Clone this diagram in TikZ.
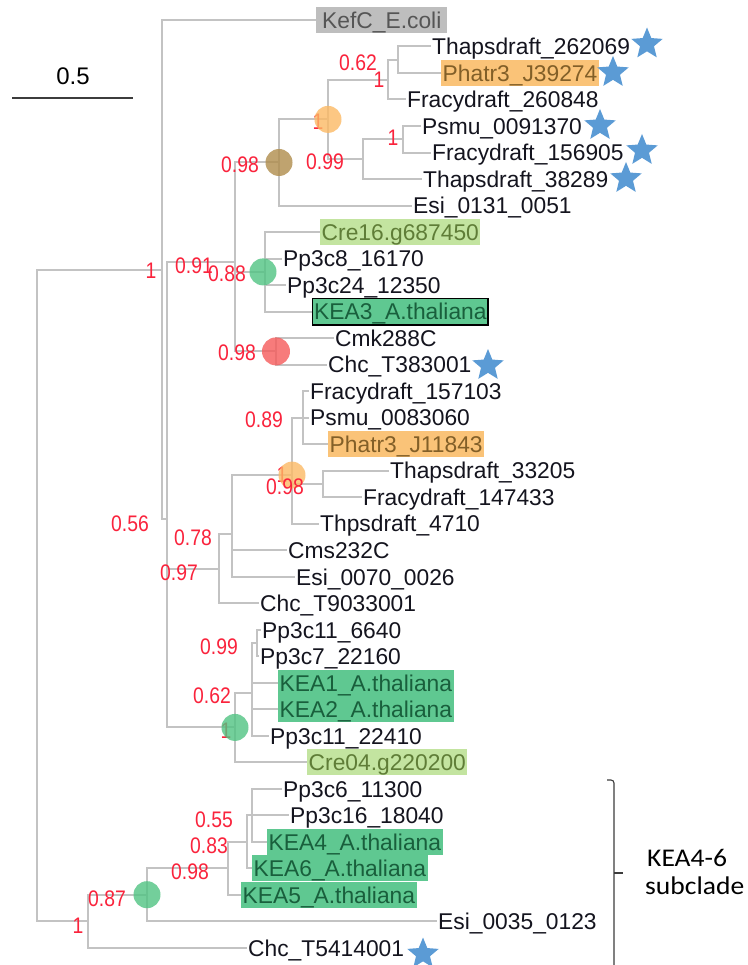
\documentclass[tikz,border=0pt]{standalone}
\usepackage{fontspec}
\setmainfont{Liberation Sans}
\newfontfamily\lblfont[FakeStretch=0.86]{Liberation Sans}
\newfontfamily\calfont[FakeStretch=1.08]{Carlito}
\usetikzlibrary{shapes.geometric}
\definecolor{branch}{RGB}{195,195,195}
\definecolor{leafblack}{RGB}{20,20,30}
\definecolor{supred}{RGB}{250,35,60}
\definecolor{orfill}{RGB}{250,195,120}
\definecolor{ortext}{RGB}{130,95,40}
\definecolor{keafill}{RGB}{95,200,145}
\definecolor{keatext}{RGB}{25,95,60}
\definecolor{crefill}{RGB}{195,228,160}
\definecolor{cretext}{RGB}{95,125,55}
\definecolor{kefcfill}{RGB}{190,190,190}
\definecolor{kefctext}{RGB}{85,85,85}
\definecolor{starblue}{RGB}{91,155,213}
\definecolor{dotorange}{RGB}{252,185,100}
\definecolor{dotbrown}{RGB}{175,140,75}
\definecolor{dotgreen}{RGB}{80,195,130}
\definecolor{dotred}{RGB}{245,90,90}
\definecolor{brackgray}{RGB}{60,60,60}
\tikzset{
  leaf/.style={anchor=west, inner xsep=1.5pt, inner ysep=1.5pt, text height=20pt, text depth=3.6pt,
    font=\fontsize{22.8}{27}\selectfont, text=leafblack},
  hlorange/.style={leaf, fill=orfill, text=ortext},
  hlkea/.style={leaf, fill=keafill, text=keatext},
  hlcre/.style={leaf, fill=crefill, text=cretext},
  hlkefc/.style={leaf, fill=kefcfill, text=kefctext, inner xsep=6pt},
  supp/.style={font=\lblfont\fontsize{22.5}{26}\selectfont, text=supred, inner sep=0pt,
    text height=16pt, text depth=0pt, anchor=center},
  edge/.style={draw=branch, line width=2pt},
  starmark/.style={star, star points=5, star point ratio=2.25, fill=starblue, draw=none,
    minimum size=33pt, inner sep=0pt},
  nodedot/.style={circle, minimum size=27pt, inner sep=0pt, draw=none, fill opacity=0.8}
}
\begin{document}
\begin{tikzpicture}[x=1pt,y=-1pt]
\useasboundingbox (0,0) rectangle (747,965);
\fill[white] (0,0) rectangle (747,965);
\clip (0,0) rectangle (747,965);

% scale bar
\node[font=\fontsize{24}{28}\selectfont, inner sep=0pt, text height=17pt, text depth=0pt] (scaletxt) at (73,76) {0.5};
\coordinate (sbL) at (12,98);
\coordinate (sbR) at (133,98);
\draw[brackgray, line width=1.1pt] (sbL) -- (sbR);

% internal nodes
\coordinate (R) at (37,595.5);
\coordinate (A) at (162,269.7);
\coordinate (C) at (167,519.3);
\coordinate (D) at (235,262);
\coordinate (Br) at (279,162.5);
\coordinate (O1) at (328,119.4);
\coordinate (Na) at (388,79.6);
\coordinate (Nb) at (398,59.8);
\coordinate (Nc) at (363,159.2);
\coordinate (Nd) at (403,139.3);
\coordinate (G88) at (265,271.9);
\coordinate (Rd) at (276,351.4);
\coordinate (N097) at (219,568.5);
\coordinate (N078) at (232,534);
\coordinate (O2) at (292,475.1);
\coordinate (N089) at (303,417.6);
\coordinate (N098b) at (323,483.9);
\coordinate (NG1) at (235,727.4);
\coordinate (N062c) at (252,692.7);
\coordinate (N099c) at (257,643);
\coordinate (B) at (88,921.3);
\coordinate (NG2) at (147,894.7);
\coordinate (N098c) at (228,868.3);
\coordinate (N083) at (247,841.7);
\coordinate (N055) at (252,815.3);

% leaves
\node[hlkefc] (L1) at (316,20) {KefC\_E.coli};
\node[leaf] (L2) at (430.5,46.5) {Thapsdraft\_262069};
\node[hlorange] (L3) at (441,73) {Phatr3\_J39274};
\node[leaf] (L4) at (405.5,99.5) {Fracydraft\_260848};
\node[leaf] (L5) at (420.5,126) {Psmu\_0091370};
\node[leaf] (L6) at (430.5,152.6) {Fracydraft\_156905};
\node[leaf] (L7) at (421.5,179) {Thapsdraft\_38289};
\node[leaf] (L8) at (411.5,205.6) {Esi\_0131\_0051};
\node[hlcre] (L9) at (320,232) {Cre16.g687450};
\node[leaf] (L10) at (281.5,258.6) {Pp3c8\_16170};
\node[leaf] (L11) at (285.5,285) {Pp3c24\_12350};
\node[hlkea, draw=black, line width=1.4pt] (L12) at (312,311.7) {KEA3\_A.thaliana};
\node[leaf] (L13) at (333.5,338) {Cmk288C};
\node[leaf] (L14) at (326.5,364.7) {Chc\_T383001};
\node[leaf] (L15) at (308.5,391) {Fracydraft\_157103};
\node[leaf] (L16) at (308.5,417.7) {Psmu\_0083060};
\node[hlorange] (L17) at (328,444) {Phatr3\_J11843};
\node[leaf] (L18) at (388.5,470.7) {Thapsdraft\_33205};
\node[leaf] (L19) at (361.5,497) {Fracydraft\_147433};
\node[leaf] (L20) at (318.5,523.7) {Thpsdraft\_4710};
\node[leaf] (L21) at (286.5,550) {Cms232C};
\node[leaf] (L22) at (294.5,576.8) {Esi\_0070\_0026};
\node[leaf] (L23) at (258.5,603) {Chc\_T9033001};
\node[leaf] (L24) at (260.5,629.8) {Pp3c11\_6640};
\node[leaf] (L25) at (258.5,656) {Pp3c7\_22160};
\node[hlkea] (L26) at (278,682.9) {KEA1\_A.thaliana};
\node[hlkea] (L27) at (278,709) {KEA2\_A.thaliana};
\node[leaf] (L28) at (268.5,735.9) {Pp3c11\_22410};
\node[hlcre] (L29) at (307,762) {Cre04.g220200};
\node[leaf] (L30) at (281.5,789) {Pp3c6\_11300};
\node[leaf] (L31) at (288.5,815) {Pp3c16\_18040};
\node[hlkea] (L32) at (267,842) {KEA4\_A.thaliana};
\node[hlkea] (L33) at (252,868) {KEA6\_A.thaliana};
\node[hlkea] (L34) at (241,895) {KEA5\_A.thaliana};
\node[leaf] (L35) at (436.5,921) {Esi\_0035\_0123};
\node[leaf] (L36) at (246.5,948) {Chc\_T5414001};

% branches
\draw[edge] (R) |- (A);
\draw[edge] (R) |- (B);
\draw[edge] (A) |- (L1.west);
\draw[edge] (A) |- (C);
\draw[edge] (C) |- (D);
\draw[edge] (C) |- (N097);
\draw[edge] (C) |- (NG1);
\draw[edge] (D) |- (Br);
\draw[edge] (D) |- (G88);
\draw[edge] (D) |- (Rd);
\draw[edge] (Br) |- (O1);
\draw[edge] (Br) |- (L8.west);
\draw[edge] (O1) |- (Na);
\draw[edge] (O1) |- (Nc);
\draw[edge] (Na) |- (Nb);
\draw[edge] (Na) |- (L4.west);
\draw[edge] (Nb) |- (L2.west);
\draw[edge] (Nb) |- (L3.west);
\draw[edge] (Nc) |- (Nd);
\draw[edge] (Nc) |- (L7.west);
\draw[edge] (Nd) |- (L5.west);
\draw[edge] (Nd) |- (L6.west);
\draw[edge] (G88) |- (L9.west);
\draw[edge] (G88) |- (L10.west);
\draw[edge] (G88) |- (L11.west);
\draw[edge] (G88) |- (L12.west);
\draw[edge] (Rd) |- (L13.west);
\draw[edge] (Rd) |- (L14.west);
\draw[edge] (N097) |- (N078);
\draw[edge] (N097) |- (L23.west);
\draw[edge] (N078) |- (O2);
\draw[edge] (N078) |- (L21.west);
\draw[edge] (N078) |- (L22.west);
\draw[edge] (O2) |- (N089);
\draw[edge] (O2) |- (N098b);
\draw[edge] (O2) |- (L20.west);
\draw[edge] (N089) |- (L15.west);
\draw[edge] (N089) |- (L16.west);
\draw[edge] (N089) |- (L17.west);
\draw[edge] (N098b) |- (L18.west);
\draw[edge] (N098b) |- (L19.west);
\draw[edge] (NG1) |- (N062c);
\draw[edge] (NG1) |- (L29.west);
\draw[edge] (N062c) |- (N099c);
\draw[edge] (N062c) |- (L26.west);
\draw[edge] (N062c) |- (L27.west);
\draw[edge] (N062c) |- (L28.west);
\draw[edge] (N099c) |- (L24.west);
\draw[edge] (N099c) |- (L25.west);
\draw[edge] (B) |- (NG2);
\draw[edge] (B) |- (L36.west);
\draw[edge] (NG2) |- (N098c);
\draw[edge] (NG2) |- (L35.west);
\draw[edge] (N098c) |- (N083);
\draw[edge] (N098c) |- (L34.west);
\draw[edge] (N083) |- (N055);
\draw[edge] (N083) |- (L33.west);
\draw[edge] (N055) |- (L30.west);
\draw[edge] (N055) |- (L31.west);
\draw[edge] (N055) |- (L32.west);

% support values
\node[supp] (s1) at (358,63) {0.62};
\node[supp] (s2) at (379,80) {1};
\node[supp] (s3) at (318,122) {1};
\node[supp] (s4) at (240,165) {0.98};
\node[supp] (s5) at (325,162) {0.99};
\node[supp] (s6) at (393,138) {1};
\node[supp] (s7) at (151,271) {1};
\node[supp] (s8) at (194,265) {0.91};
\node[supp] (s9) at (227,274) {0.88};
\node[supp] (s10) at (237,352) {0.98};
\node[supp] (s11) at (264,419) {0.89};
\node[supp] (s12) at (282,474) {1};
\node[supp] (s14) at (130,523) {0.56};
\node[supp] (s15) at (193,537) {0.78};
\node[supp] (s16) at (179,572) {0.97};
\node[supp] (s17) at (219,646) {0.99};
\node[supp] (s18) at (212,695) {0.62};
\node[supp] (s19) at (226,730) {1};
\node[supp] (s20) at (214,819) {0.55};
\node[supp] (s21) at (209,845) {0.83};
\node[supp] (s22) at (190,871) {0.98};
\node[supp] (s23) at (107,898) {0.87};
\node[supp] (s24) at (78,925) {1};

% node dots
\node[nodedot, fill=dotorange] (d1) at (O1) {};
\node[nodedot, fill=dotbrown] (d2) at (Br) {};
\node[nodedot, fill=dotgreen] (d3) at (263,271.9) {};
\node[nodedot, fill=dotred, minimum size=28pt] (d4) at (Rd) {};
\node[nodedot, fill=dotorange] (d5) at (O2) {};
\node[nodedot, fill=dotgreen] (d6) at (NG1) {};
\node[nodedot, fill=dotgreen] (d7) at (NG2) {};
\node[supp] (s13) at (285,486) {0.98};

% stars
\node[starmark] (st1) at (647,44) {};
\node[starmark] (st2) at (613,72.5) {};
\node[starmark] (st3) at (600,125.5) {};
\node[starmark] (st4) at (642,150.5) {};
\node[starmark] (st5) at (626,178.5) {};
\node[starmark] (st6) at (488,365.5) {};
\node[starmark] (st7) at (423,954) {};

% bracket
\coordinate (bTop) at (607,780);
\coordinate (bMid) at (614,873);
\coordinate (bTip) at (623,873);
\coordinate (bBot) at (614,975);
\draw[brackgray, line width=1.1pt, rounded corners=3pt] (bTop) -| (bBot);
\draw[brackgray, line width=1.1pt] (bMid) -- (bTip);
\node[font=\calfont\fontsize{25.5}{30}\selectfont, anchor=base west, inner sep=0pt, text=black] (sub1) at (647,866) {KEA4-6};
\node[font=\calfont\fontsize{25.5}{30}\selectfont, anchor=base west, inner sep=0pt, text=black] (sub2) at (645,894) {subclade};
\end{tikzpicture}
\end{document}
